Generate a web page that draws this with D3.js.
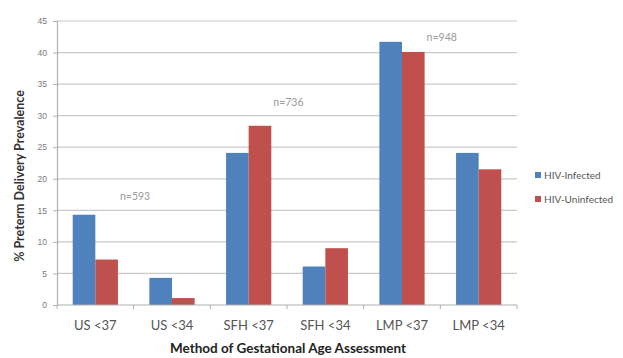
<!DOCTYPE html>
<html>
<head>
<meta charset="utf-8">
<script src="https://cdn.jsdelivr.net/npm/d3@7"></script>
<style>
  html, body { margin: 0; padding: 0; background: #fff; }
  svg { display: block; font-family: Lato, "Open Sans", "Liberation Sans", sans-serif; }
</style>
</head>
<body>
<svg id="chart" width="623" height="358"></svg>
<script>
// Preterm delivery prevalence by gestational-age method and HIV status
const categories = ["US <37", "US <34", "SFH <37", "SFH <34", "LMP <37", "LMP <34"];
const seriesNames = ["HIV-Infected", "HIV-Uninfected"];
const infected = [14.3, 4.3, 24.1, 6.1, 41.7, 24.1];
const uninfected = [7.2, 1.1, 28.4, 9.0, 40.1, 21.5];
const yTicks = [0, 5, 10, 15, 20, 25, 30, 35, 40, 45];
const sampleLabels = ["n=593", "n=736", "n=948"];
const sampleAnchor = [0, 2, 4];      // category each n= label sits beside
const sampleHeights = [17.3, 32.2, 42.4];

const colors = ["#4F81BD", "#C0504D"];

const svg = d3.select("#chart");
const m = { left: 57, right: 106, top: 21, bottom: 53 };
const W = 623, H = 358;

const x = d3.scaleBand().domain(categories).range([m.left, W - m.right]).paddingInner(0.41).paddingOuter(0.205);
const x1 = d3.scaleBand().domain(seriesNames).range([0, x.bandwidth()]);
const y = d3.scaleLinear().domain([0, 45]).range([H - m.bottom, m.top]);

// gridlines
svg.append("g")
  .selectAll("line")
  .data(yTicks.filter(d => d > 0))
  .join("line")
  .attr("x1", m.left).attr("x2", W - m.right)
  .attr("y1", d => y(d)).attr("y2", d => y(d))
  .attr("stroke", "#c9c9c9").attr("stroke-width", 1.2);

// y axis
const yAxis = svg.append("g")
  .attr("transform", `translate(${m.left},0)`)
  .call(d3.axisLeft(y).tickValues(yTicks).tickSize(4).tickPadding(6));
yAxis.select(".domain").attr("stroke", "#b0b0b0").attr("stroke-width", 1.2);
yAxis.selectAll(".tick line").attr("stroke", "#b0b0b0");
yAxis.selectAll("text").attr("fill", "#7a7a7a").style("font-size", "8.5px");

// bars
const data = categories.map((c, i) => ({ c, vals: [infected[i], uninfected[i]] }));
svg.append("g")
  .selectAll("g")
  .data(data)
  .join("g")
  .attr("transform", d => `translate(${x(d.c)},0)`)
  .selectAll("rect")
  .data(d => d.vals.map((v, j) => ({ v, s: seriesNames[j], j })))
  .join("rect")
  .attr("x", d => x1(d.s))
  .attr("width", x1.bandwidth())
  .attr("y", d => y(d.v))
  .attr("height", d => y(0) - y(d.v))
  .attr("fill", d => colors[d.j]);

// x axis with ticks between categories
const step = x.step();
const xAxisG = svg.append("g").attr("transform", `translate(0,${y(0)})`);
xAxisG.append("line")
  .attr("x1", m.left).attr("x2", W - m.right)
  .attr("stroke", "#b0b0b0").attr("stroke-width", 1.2);
xAxisG.selectAll("line.tk")
  .data(d3.range(categories.length + 1))
  .join("line").attr("class", "tk")
  .attr("x1", i => m.left + i * step).attr("x2", i => m.left + i * step)
  .attr("y1", 0).attr("y2", 4)
  .attr("stroke", "#b0b0b0");
xAxisG.selectAll("text")
  .data(categories)
  .join("text")
  .attr("x", d => x(d) + x.bandwidth() / 2)
  .attr("y", 25)
  .attr("text-anchor", "middle")
  .attr("fill", "#555")
  .style("font-size", "13px")
  .text(d => d);

// sample size annotations
svg.append("g")
  .selectAll("text")
  .data(sampleLabels)
  .join("text")
  .attr("x", (d, i) => x(categories[sampleAnchor[i]]) + x.bandwidth() + 2)
  .attr("y", (d, i) => y(sampleHeights[i]) + 4)
  .attr("fill", "#999")
  .style("font-size", "10.5px")
  .text(d => d);

// axis titles
svg.append("text")
  .attr("transform", `translate(24,176) rotate(-90)`)
  .attr("text-anchor", "middle")
  .attr("fill", "#333")
  .style("font-size", "12.5px").style("font-weight", "bold")
  .text("% Preterm Delivery Prevalence");

svg.append("text")
  .attr("x", 288)
  .attr("y", 353)
  .attr("text-anchor", "middle")
  .attr("fill", "#222")
  .style("font-size", "13.5px").style("font-weight", "bold")
  .text("Method of Gestational Age Assessment");

// legend
const lg = svg.append("g").attr("transform", "translate(535,175)");
const li = lg.selectAll("g").data(seriesNames).join("g")
  .attr("transform", (d, i) => `translate(0,${i * 24})`);
li.append("rect").attr("width", 6).attr("height", 6).attr("y", -3).attr("fill", (d, i) => colors[i]);
li.append("text").attr("x", 9).attr("y", 4)
  .attr("fill", "#555").style("font-size", "10px").text(d => d);
</script>
</body>
</html>
